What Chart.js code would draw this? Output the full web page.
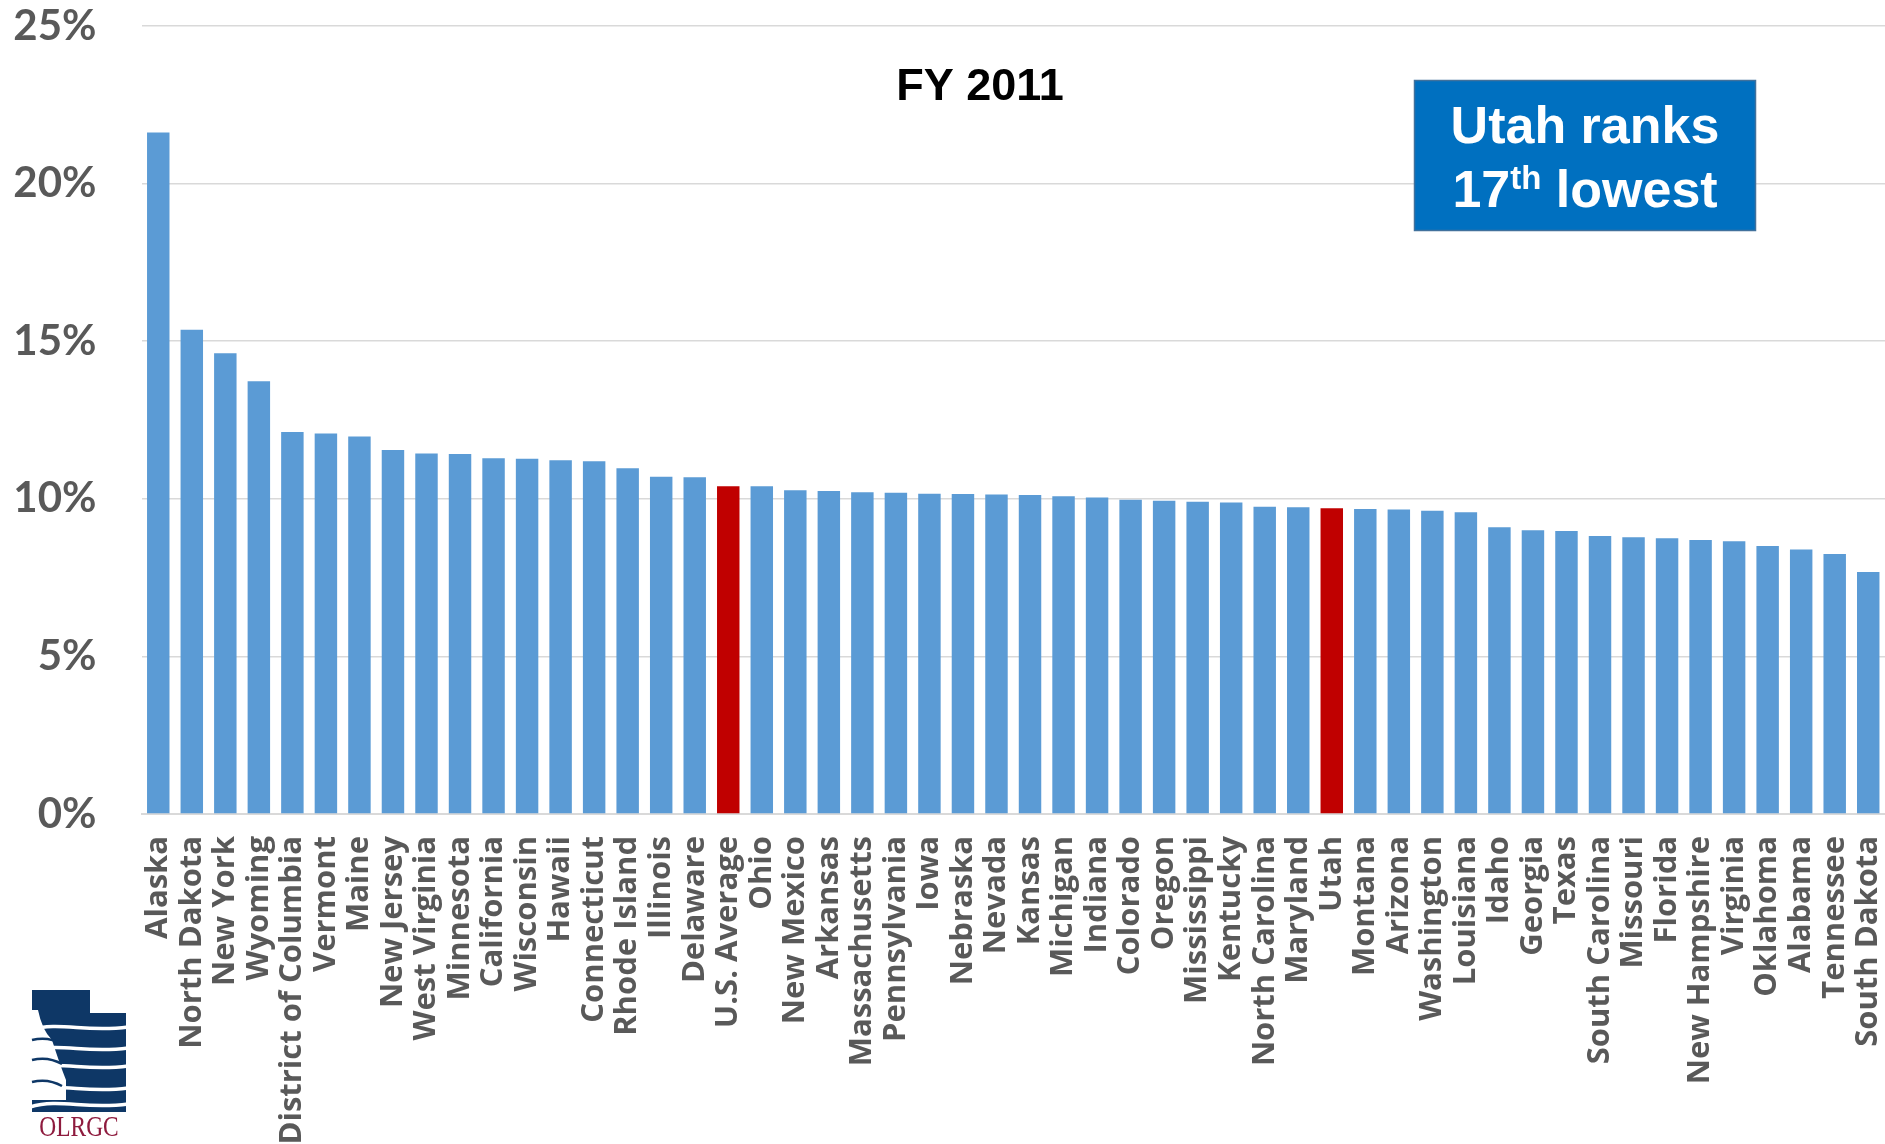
<!DOCTYPE html>
<html>
<head>
<meta charset="utf-8">
<script src="https://cdn.jsdelivr.net/npm/chart.js@4.4.1/dist/chart.umd.min.js"></script>
<style>
html,body{margin:0;padding:0;background:#fff;overflow:hidden;}
#wrap{position:relative;width:1885px;height:1144px;}
</style>
</head>
<body>
<div id="wrap"><canvas id="c" width="1885" height="1144"></canvas></div>
<script>
const categories = ["Alaska","North Dakota","New York","Wyoming","District of Columbia","Vermont","Maine","New Jersey","West Virginia","Minnesota","California","Wisconsin","Hawaii","Connecticut","Rhode Island","Illinois","Delaware","U.S. Average","Ohio","New Mexico","Arkansas","Massachusetts","Pennsylvania","Iowa","Nebraska","Nevada","Kansas","Michigan","Indiana","Colorado","Oregon","Mississippi","Kentucky","North Carolina","Maryland","Utah","Montana","Arizona","Washington","Louisiana","Idaho","Georgia","Texas","South Carolina","Missouri","Florida","New Hampshire","Virginia","Oklahoma","Alabama","Tennessee","South Dakota"];
const values = [21.62,15.36,14.62,13.73,12.12,12.07,11.98,11.55,11.44,11.42,11.29,11.27,11.22,11.19,10.97,10.70,10.68,10.40,10.40,10.27,10.25,10.21,10.19,10.16,10.15,10.14,10.12,10.08,10.04,9.97,9.94,9.91,9.88,9.75,9.73,9.70,9.68,9.66,9.62,9.57,9.10,9.00,8.98,8.82,8.78,8.75,8.69,8.65,8.50,8.39,8.25,7.68];
const highlighted = ["U.S. Average","Utah"];
const yTicks = [0,5,10,15,20,25];
const chartTitle = "FY 2011";
const boxLine1 = "Utah ranks";
const boxLine2 = ["17","th"," lowest"];
const logoText = "OLRGC";

const barColors = categories.map(c => highlighted.includes(c) ? "#C00000" : "#5B9BD5");

const overlay = {
  id: "overlay",
  afterDraw(chart) {
    const ctx = chart.ctx;
    ctx.save();
    ctx.fillStyle = "#000";
    ctx.font = "bold 45px 'Liberation Sans', Arial, sans-serif";
    ctx.textAlign = "center";
    ctx.textBaseline = "alphabetic";
    ctx.fillText(chartTitle, 980, 100);
    ctx.fillStyle = "#0070C0";
    ctx.fillRect(1414.5, 80.5, 341, 150);
    ctx.strokeStyle = "#41719C";
    ctx.lineWidth = 1.5;
    ctx.strokeRect(1414.5, 80.5, 341, 150);
    ctx.fillStyle = "#fff";
    ctx.font = "bold 52px 'Liberation Sans', Arial, sans-serif";
    ctx.textAlign = "center";
    ctx.fillText(boxLine1, 1585, 143);
    const big = "bold 52px 'Liberation Sans', Arial, sans-serif";
    const sm = "bold 33px 'Liberation Sans', Arial, sans-serif";
    ctx.font = big; const w1 = ctx.measureText(boxLine2[0]).width;
    ctx.font = sm; const w2 = ctx.measureText(boxLine2[1]).width;
    ctx.font = big; const w3 = ctx.measureText(boxLine2[2]).width;
    let x = 1585 - (w1 + w2 + w3) / 2;
    ctx.textAlign = "left";
    ctx.font = big; ctx.fillText(boxLine2[0], x, 207); x += w1;
    ctx.font = sm; ctx.fillText(boxLine2[1], x, 189); x += w2;
    ctx.font = big; ctx.fillText(boxLine2[2], x, 207);
    // logo
    const navy = "#0E3766";
    ctx.fillStyle = navy;
    ctx.beginPath();
    ctx.moveTo(32, 990); ctx.lineTo(90, 990); ctx.lineTo(90, 1013);
    ctx.lineTo(126, 1013); ctx.lineTo(126, 1112); ctx.lineTo(32, 1112); ctx.closePath();
    ctx.fill();
    ctx.strokeStyle = "#fff";
    ctx.lineWidth = 3.5;
    [1027, 1048, 1066, 1088, 1104].forEach(wy => {
      ctx.beginPath();
      ctx.moveTo(30, wy + 3);
      ctx.bezierCurveTo(60, wy - 6, 85, wy + 6, 128, wy);
      ctx.stroke();
    });
    ctx.fillStyle = "#fff";
    ctx.beginPath();
    ctx.moveTo(32, 1010);
    ctx.lineTo(38, 1010);
    ctx.quadraticCurveTo(42, 1030, 52, 1040);
    ctx.quadraticCurveTo(60, 1065, 66, 1080);
    ctx.lineTo(66, 1100);
    ctx.lineTo(32, 1100);
    ctx.closePath();
    ctx.fill();
    ctx.strokeStyle = navy; ctx.lineWidth = 2.5;
    [1040, 1060, 1082].forEach(wy => {
      ctx.beginPath(); ctx.moveTo(32, wy); ctx.quadraticCurveTo(48, wy - 4, 62, wy + 4); ctx.stroke();
    });
    ctx.fillStyle = "#8E1B3E";
    ctx.font = "30px 'Liberation Serif', 'DejaVu Serif', serif";
    ctx.textAlign = "center";
    ctx.save();
    ctx.translate(79, 1136);
    ctx.scale(0.78, 1);
    ctx.fillText(logoText, 0, 0);
    ctx.restore();
    ctx.restore();
  }
};

new Chart(document.getElementById("c"), {
  type: "bar",
  data: {
    labels: categories,
    datasets: [{
      data: values,
      backgroundColor: barColors,
      borderWidth: 0,
      barPercentage: 0.67,
      categoryPercentage: 1.0
    }]
  },
  options: {
    responsive: false,
    animation: false,
    maintainAspectRatio: false,
    layout: { padding: { top: 26, left: 0, right: 0, bottom: 0 } },
    plugins: { legend: { display: false }, tooltip: { enabled: false }, title: { display: false } },
    scales: {
      x: {
        grid: { display: false, drawTicks: false },
        border: { display: true, color: "#D9D9D9", width: 2 },
        ticks: {
          autoSkip: false,
          minRotation: 90,
          maxRotation: 90,
          padding: 22,
          color: "#595959",
          font: { family: "'Open Sans', sans-serif", weight: "bold", size: 31 }
        },
        afterFit(scale) {
          scale.height = 1144 - 814;
          scale.paddingLeft = 0; scale.paddingRight = 0;
          scale.paddingTop = 0; scale.paddingBottom = 0;
        }
      },
      y: {
        min: 0,
        max: 25,
        afterBuildTicks(scale) { scale.ticks = yTicks.map(v => ({ value: v })); },
        grid: { color: "#D9D9D9", lineWidth: 1.5, drawTicks: false },
        border: { display: false },
        ticks: {
          padding: 45,
          color: "#595959",
          font: { family: "Lato, 'Open Sans', sans-serif", weight: "bold", size: 42 },
          callback: v => v + "%"
        },
        afterFit(scale) {
          scale.width = 141.5;
          scale.paddingLeft = 0; scale.paddingRight = 0;
          scale.paddingTop = 0; scale.paddingBottom = 0;
        }
      }
    }
  },
  plugins: [overlay]
});
</script>
</body>
</html>
